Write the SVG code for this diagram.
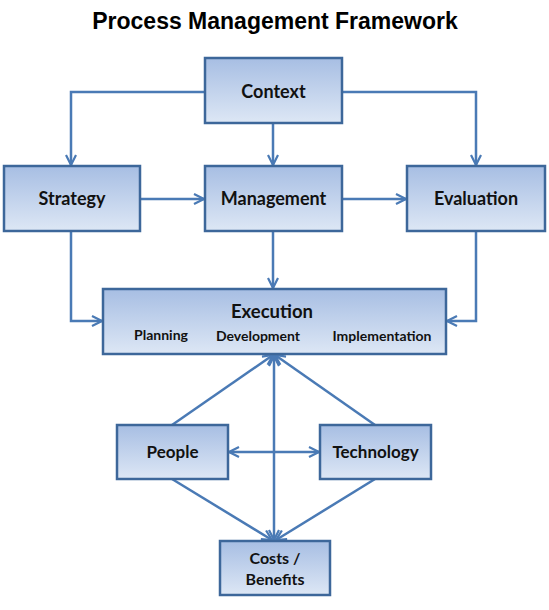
<svg xmlns="http://www.w3.org/2000/svg" width="549" height="610" viewBox="0 0 549 610">
<defs>
<linearGradient id="boxfill" x1="0" y1="0" x2="0" y2="1">
<stop offset="0" stop-color="#a7bee3"/>
<stop offset="1" stop-color="#dde7f5"/>
</linearGradient>
<marker id="arr" viewBox="0 0 12 12" refX="11" refY="6" markerWidth="12" markerHeight="12" markerUnits="userSpaceOnUse" orient="auto-start-reverse">
<path d="M1,1 L11,6 L1,11" fill="none" stroke="#4a7ab5" stroke-width="2.2"/>
</marker>
<style>
.box{fill:url(#boxfill);stroke:#3d679a;stroke-width:2.5}
.lbl{font-family:Lato,"Liberation Sans",sans-serif;font-weight:bold;fill:#111;text-anchor:middle}
.conn{fill:none;stroke:#4a7ab5;stroke-width:2.5}
</style>
</defs>
<rect width="549" height="610" fill="#ffffff"/>
<text x="275" y="29" style="font-family:'Liberation Sans',Arial,sans-serif;font-weight:bold;font-size:23px;fill:#000;text-anchor:middle">Process Management Framework</text>
<g id="connectors">
<path class="conn" d="M205,92 H71 V165" marker-end="url(#arr)"/>
<path class="conn" d="M342,92 H476 V165" marker-end="url(#arr)"/>
<path class="conn" d="M273,123 V165" marker-end="url(#arr)"/>
<path class="conn" d="M140,199 H204" marker-end="url(#arr)"/>
<path class="conn" d="M342,199 H406" marker-end="url(#arr)"/>
<path class="conn" d="M273,231 V288" marker-end="url(#arr)"/>
<path class="conn" d="M71,231 V321 H102" marker-end="url(#arr)"/>
<path class="conn" d="M476,231 V321 H447" marker-end="url(#arr)"/>
<path class="conn" d="M172,425 L273,355" marker-end="url(#arr)"/>
<path class="conn" d="M375,425 L275,355" marker-end="url(#arr)"/>
<path class="conn" d="M274,356 V540" marker-start="url(#arr)" marker-end="url(#arr)"/>
<path class="conn" d="M229,452 H319" marker-start="url(#arr)" marker-end="url(#arr)"/>
<path class="conn" d="M172,479 L272,540" marker-end="url(#arr)"/>
<path class="conn" d="M375,479 L276,540" marker-end="url(#arr)"/>
</g>
<g id="context"><rect class="box" x="205" y="58" width="137" height="65"/><text class="lbl" x="273.5" y="98" font-size="18">Context</text></g>
<g id="strategy"><rect class="box" x="4" y="166" width="136" height="65"/><text class="lbl" x="72" y="205" font-size="18">Strategy</text></g>
<g id="management"><rect class="box" x="205" y="166" width="137" height="65"/><text class="lbl" x="273.5" y="205" font-size="18">Management</text></g>
<g id="evaluation"><rect class="box" x="407" y="166" width="138" height="65"/><text class="lbl" x="476" y="205" font-size="18">Evaluation</text></g>
<g id="execution"><rect class="box" x="103" y="289" width="343" height="65"/>
<text class="lbl" x="272" y="318" font-size="18.5">Execution</text>
<text class="lbl" x="161" y="340" font-size="14">Planning</text>
<text class="lbl" x="258" y="341" font-size="14">Development</text>
<text class="lbl" x="382" y="341" font-size="14">Implementation</text></g>
<g id="people"><rect class="box" x="117" y="425" width="111" height="54"/><text class="lbl" x="172.5" y="458" font-size="17">People</text></g>
<g id="technology"><rect class="box" x="320" y="425" width="111" height="54"/><text class="lbl" x="375.5" y="458" font-size="17">Technology</text></g>
<g id="costs"><rect class="box" x="220" y="541" width="110" height="54"/><text class="lbl" x="275" y="564" font-size="16">Costs /</text><text class="lbl" x="275" y="585" font-size="16">Benefits</text></g>
</svg>
